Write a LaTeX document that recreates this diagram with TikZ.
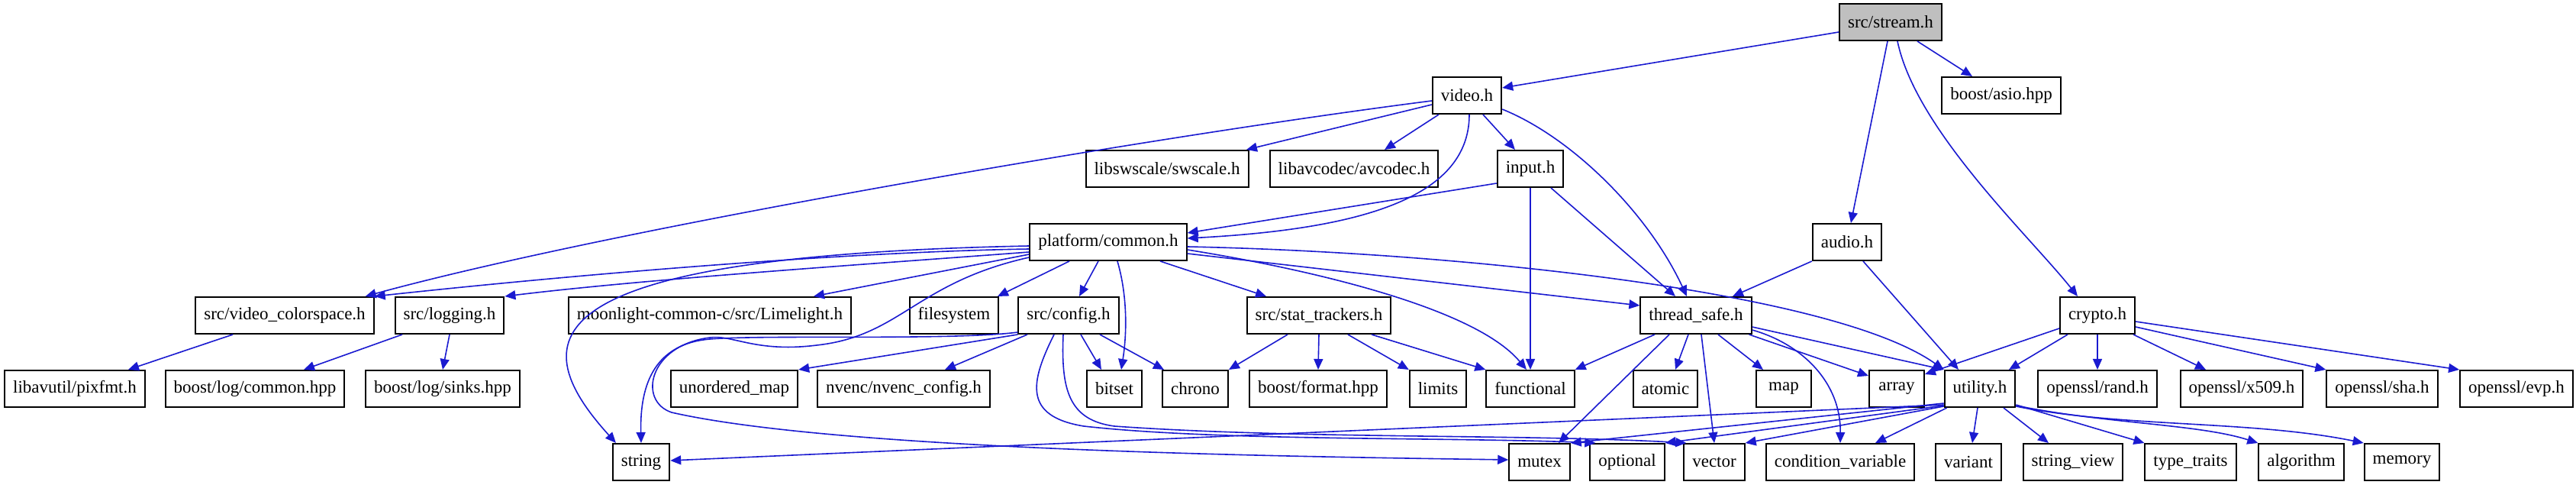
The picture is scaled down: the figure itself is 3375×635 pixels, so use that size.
\documentclass[tikz,border=0pt]{standalone}
\usepackage{fontspec}
\setmainfont{Liberation Serif}
\usetikzlibrary{arrows.meta}
\definecolor{edgeblue}{RGB}{26,26,208}
\definecolor{rootgray}{RGB}{191,191,191}

\begin{document}
\begin{tikzpicture}[
    x=0.5pt, y=-0.5pt,
    font=\fontsize{11.5}{13}\selectfont,
    >={Triangle[length=7pt,width=6pt]},
    box/.style={draw, line width=1pt, fill=white, minimum height=24pt, minimum width=36pt, inner xsep=5.5pt, inner ysep=0pt},
    arr/.style={->, color=edgeblue, line width=0.8pt}
  ]
    \useasboundingbox (0,0) rectangle (3375,635);

    % rows of the include graph
    \node[box, fill=rootgray] (stream) at (2477,29) {src/stream.h};
    \node[box] (video) at (1922,125) {video.h};
    \node[box] (asio) at (2622,125) {boost/asio.hpp};
    \node[box] (swscale) at (1529,221) {libswscale/swscale.h};
    \node[box] (avcodec) at (1774,221) {libavcodec/avcodec.h};
    \node[box] (input) at (2005,221) {input.h};
    \node[box] (common) at (1452,317) {platform/common.h};
    \node[box] (audio) at (2420,317) {audio.h};
    \node[box] (vcs) at (373,413) {src/video\_colorspace.h};
    \node[box] (logging) at (589,413) {src/logging.h};
    \node[box] (lime) at (930,413) {moonlight-common-c/src/Limelight.h};
    \node[box] (fs) at (1250,413) {filesystem};
    \node[box] (config) at (1400,413) {src/config.h};
    \node[box] (stats) at (1728,413) {src/stat\_trackers.h};
    \node[box] (tsafe) at (2222,413) {thread\_safe.h};
    \node[box] (crypto) at (2748,413) {crypto.h};
    \node[box] (pixfmt) at (98,509) {libavutil/pixfmt.h};
    \node[box] (logcommon) at (334,509) {boost/log/common.hpp};
    \node[box] (logsinks) at (580,509) {boost/log/sinks.hpp};
    \node[box] (umap) at (962,509) {unordered\_map};
    \node[box] (nvenc) at (1184,509) {nvenc/nvenc\_config.h};
    \node[box] (bitset) at (1460,509) {bitset};
    \node[box] (chrono) at (1566,509) {chrono};
    \node[box] (bformat) at (1727,509) {boost/format.hpp};
    \node[box] (limits) at (1884,509) {limits};
    \node[box] (functional) at (2005,509) {functional};
    \node[box] (atomic) at (2182,509) {atomic};
    \node[box] (map) at (2337,509) {map};
    \node[box] (array) at (2485,509) {array};
    \node[box] (utility) at (2594,509) {utility.h};
    \node[box] (rand) at (2748,509) {openssl/rand.h};
    \node[box] (x509) at (2937,509) {openssl/x509.h};
    \node[box] (sha) at (3121,509) {openssl/sha.h};
    \node[box] (evp) at (3297,509) {openssl/evp.h};
    \node[box] (string) at (840,605) {string};
    \node[box] (mutex) at (2017,605) {mutex};
    \node[box] (optional) at (2132,605) {optional};
    \node[box] (vector) at (2246,605) {vector};
    \node[box] (condvar) at (2411,605) {condition\_variable};
    \node[box] (variant) at (2579,605) {variant};
    \node[box] (strview) at (2716,605) {string\_view};
    \node[box] (typetraits) at (2870,605) {type\_traits};
    \node[box] (algorithm) at (3015,605) {algorithm};
    \node[box] (memory) at (3147,605) {memory};

    % src/stream.h
    \draw[arr] ([yshift=-6.5pt]stream.west) -- ([yshift=5pt]video.east);
    \draw[arr] ([xshift=17.5pt]stream.south) -- ([xshift=-19pt]asio.north);
    \draw[arr] ([xshift=-2pt]stream.south) -- ([xshift=2.5pt]audio.north);
    \draw[arr] ([xshift=4.5pt]stream.south) .. controls (2510,170) and (2660,310) .. ([xshift=-13pt]crypto.north);

    % video.h
    \draw[arr] ([yshift=-3.5pt]video.west) .. controls (1500,180) and (800,300) .. ([xshift=-6pt]vcs.north east);
    \draw[arr] ([yshift=-6pt]video.west) -- ([xshift=52pt]swscale.north);
    \draw[arr] ([xshift=-18.5pt]video.south) -- ([xshift=20pt]avcodec.north);
    \draw[arr] ([xshift=10.5pt]video.south) -- ([xshift=-10pt]input.north);
    \draw[arr] ([xshift=1.5pt]video.south) .. controls (1925,260) and (1780,300) .. ([yshift=2.5pt]common.east);
    \draw[arr] ([yshift=-9pt]video.east) .. controls (2060,180) and (2160,280) .. ([xshift=-6pt]tsafe.north);

    % input.h
    \draw[arr] ([yshift=-9.5pt]input.west) -- ([yshift=6pt]common.east);
    \draw[arr] (input.south) -- (functional.north);
    \draw[arr] ([xshift=13.5pt]input.south) -- ([xshift=-13.5pt]tsafe.north);

    % platform/common.h
    \draw[arr] ([yshift=-4.5pt]common.west) .. controls (1100,330) and (750,360) .. (vcs.north east);
    \draw[arr] ([yshift=-6.5pt]common.west) .. controls (1150,345) and (850,365) .. (logging.north east);
    \draw[arr] ([yshift=-2.5pt]common.west) .. controls (700,335) and (680,440) .. ([xshift=-16.5pt]string.north);
    \draw[arr] ([yshift=-8pt]common.west) -- ([xshift=68pt]lime.north);
    \draw[arr] ([yshift=-10pt]common.west) .. controls (1200,370) and (1180,440) .. (1070,452)
      .. controls (990,462) and (960,438) .. (930,442)
      .. controls (850,452) and (835,525) .. (880,540)
      .. controls (1100,590) and (1700,598) .. ([yshift=1.5pt]mutex.west);
    \draw[arr] ([xshift=-25.5pt]common.south) -- ([xshift=28.5pt]fs.north);
    \draw[arr] ([xshift=-6.5pt]common.south) -- ([xshift=7pt]config.north);
    \draw[arr] ([xshift=6pt]common.south) .. controls (1478,390) and (1476,440) .. ([xshift=4.5pt]bitset.north);
    \draw[arr] ([xshift=34pt]common.south) -- ([xshift=-34.5pt]stats.north);
    \draw[arr] ([yshift=-5pt]common.east) .. controls (1700,350) and (1930,400) .. ([xshift=-2.5pt]functional.north);
    \draw[arr] ([yshift=-7.5pt]common.east) -- ([yshift=6.5pt]tsafe.west);
    \draw[arr] ([yshift=-3pt]common.east) .. controls (1900,330) and (2400,380) .. (utility.north west);

    % audio.h
    \draw[arr] (audio.south west) -- ([xshift=24pt]tsafe.north);
    \draw[arr] ([xshift=10.5pt]audio.south) -- ([xshift=-14pt]utility.north);

    % src/config.h
    \draw[arr] ([xshift=-27pt]config.south) -- ([xshift=27pt]nvenc.north);
    \draw[arr] (config.south west) -- (umap.north east);
    \draw[arr] ([xshift=8pt]config.south) -- ([xshift=-8.5pt]bitset.north);
    \draw[arr] ([xshift=20.5pt]config.south) -- ([xshift=-20.5pt]chrono.north);
    \draw[arr] ([yshift=-11pt]config.west) .. controls (1250,446) and (1000,438) .. (930,444)
      .. controls (860,450) and (838,500) .. (string.north);
    \draw[arr] ([xshift=-9.5pt]config.south) .. controls (1350,500) and (1340,545) .. (1420,558)
      .. controls (1600,578) and (1900,572) .. ([xshift=4pt]optional.north west);
    \draw[arr] ([xshift=-3.5pt]config.south) .. controls (1390,510) and (1400,550) .. (1460,558)
      .. controls (1700,575) and (2000,568) .. ([xshift=2pt]vector.north west);

    % src/stat_trackers.h
    \draw[arr] ([xshift=-20.5pt]stats.south) -- (chrono.north east);
    \draw[arr] (stats.south) -- (bformat.north);
    \draw[arr] ([xshift=19pt]stats.south) -- (limits.north west);
    \draw[arr] ([xshift=34.5pt]stats.south) -- (functional.north west);

    % thread_safe.h
    \draw[arr] ([xshift=-27pt]tsafe.south) -- (functional.north east);
    \draw[arr] ([xshift=-17.5pt]tsafe.south) -- ([xshift=12.5pt]mutex.north);
    \draw[arr] ([xshift=-5pt]tsafe.south) -- ([xshift=6.5pt]atomic.north);
    \draw[arr] ([xshift=3.5pt]tsafe.south) -- (vector.north);
    \draw[arr] ([xshift=14.5pt]tsafe.south) -- ([xshift=-13.5pt]map.north);
    \draw[arr] ([xshift=-2pt]tsafe.south east) -- ([yshift=8.5pt]array.west);
    \draw[arr] ([yshift=-7.5pt]tsafe.east) -- (utility.north west);
    \draw[arr] ([yshift=-9.5pt]tsafe.east) .. controls (2360,450) and (2412,500) .. (condvar.north);

    % crypto.h
    \draw[arr] ([yshift=-8.5pt]crypto.west) -- ([yshift=9.5pt]array.east);
    \draw[arr] ([xshift=-19.5pt]crypto.south) -- ([xshift=19pt]utility.north);
    \draw[arr] (crypto.south) -- (rand.north);
    \draw[arr] ([xshift=23.5pt]crypto.south) -- ([xshift=-23.5pt]x509.north);
    \draw[arr] ([yshift=-7.5pt]crypto.east) -- (sha.north west);
    \draw[arr] ([yshift=-4pt]crypto.east) -- (evp.north west);

    % utility.h
    \draw[arr] ([yshift=-10.5pt]utility.west) -- ([yshift=1pt]string.east);
    \draw[arr] ([yshift=-9.5pt]utility.west) -- (mutex.north east);
    \draw[arr] ([yshift=-11pt]utility.west) -- (optional.north east);
    \draw[arr] ([yshift=-11.5pt]utility.west) -- (vector.north east);
    \draw[arr] ([xshift=2pt]utility.south west) -- ([xshift=23pt]condvar.north);
    \draw[arr] ([xshift=-1.5pt]utility.south) -- ([xshift=2.5pt]variant.north);
    \draw[arr] ([xshift=15.5pt]utility.south) -- ([xshift=-16pt]strview.north);
    \draw[arr] ([yshift=-10.5pt]utility.east) -- (typetraits.north west);
    \draw[arr] ([yshift=-11pt]utility.east) .. controls (2760,555) and (2880,555) .. (algorithm.north west);
    \draw[arr] ([yshift=-11.5pt]utility.east) .. controls (2780,560) and (2950,550) .. (memory.north west);

    % left side
    \draw[arr] ([xshift=-34pt]vcs.south) -- ([xshift=35pt]pixfmt.north);
    \draw[arr] ([xshift=-31pt]logging.south) -- ([xshift=32pt]logcommon.north);
    \draw[arr] (logging.south) -- (logsinks.north);
\end{tikzpicture}
\end{document}
